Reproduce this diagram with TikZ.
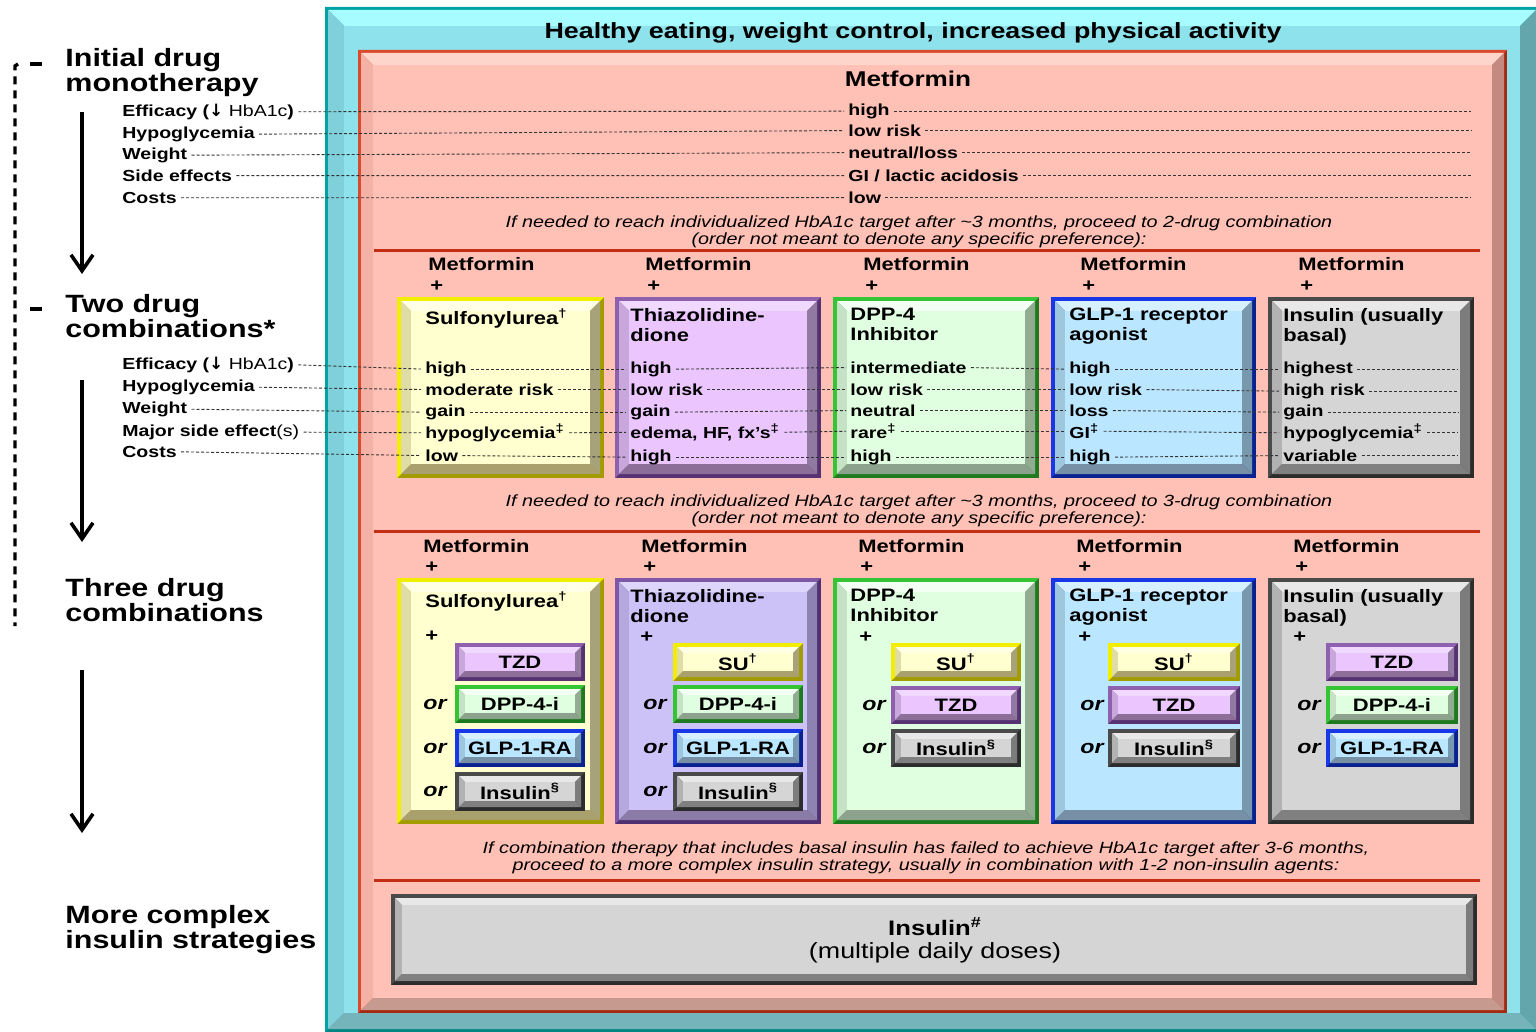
\documentclass[tikz,border=0pt]{standalone}
\usepackage{fontspec}
\setmainfont{Liberation Sans}[FakeStretch=1.22]
\newfontfamily\arrowfont{DejaVu Sans}
\usetikzlibrary{positioning,arrows.meta}

% b1/b2 = border light/dark, t/l/r/u = bevel top/left/right/bottom, f = face
\definecolor{cyab1}{HTML}{00A3A3}\definecolor{cyab2}{HTML}{008585}
\definecolor{cyat}{HTML}{A6FCFF}\definecolor{cyal}{HTML}{7FD0DA}
\definecolor{cyar}{HTML}{63A7AD}\definecolor{cyau}{HTML}{75B4BA}
\definecolor{cyaf}{HTML}{8DE2EC}
\definecolor{redb1}{HTML}{D94A2E}\definecolor{redb2}{HTML}{A52A12}
\definecolor{redt}{HTML}{FED5CA}\definecolor{redl}{HTML}{F4B2A6}
\definecolor{redr}{HTML}{C48A82}\definecolor{redu}{HTML}{C69A8E}
\definecolor{redf}{HTML}{FFC0B5}
\definecolor{yelb1}{HTML}{F2EE00}\definecolor{yelb2}{HTML}{A39C00}
\definecolor{yelt}{HTML}{FFFFE6}\definecolor{yell}{HTML}{E0DCA6}
\definecolor{yelr}{HTML}{A8A27A}\definecolor{yelu}{HTML}{A9A06E}
\definecolor{yelf}{HTML}{FFFFD0}
\definecolor{purb1}{HTML}{8E60AE}\definecolor{purb2}{HTML}{563272}
\definecolor{purt}{HTML}{F0D8FF}\definecolor{purl}{HTML}{C8A8DC}
\definecolor{purr}{HTML}{907AA2}\definecolor{puru}{HTML}{8C6E98}
\definecolor{purf}{HTML}{EBC5FE}
\definecolor{lavb1}{HTML}{7E58A6}\definecolor{lavb2}{HTML}{4E3070}
\definecolor{lavt}{HTML}{DED6FA}\definecolor{lavl}{HTML}{B4A8DE}
\definecolor{lavr}{HTML}{8E82B2}\definecolor{lavu}{HTML}{8A7CA6}
\definecolor{lavf}{HTML}{CDC2F7}
\definecolor{grnb1}{HTML}{34C434}\definecolor{grnb2}{HTML}{1E7A1E}
\definecolor{grnt}{HTML}{F2FFF2}\definecolor{grnl}{HTML}{C6E2C6}
\definecolor{grnr}{HTML}{92AC92}\definecolor{grnu}{HTML}{8CA28C}
\definecolor{grnf}{HTML}{E0FFE0}
\definecolor{blub1}{HTML}{1838E8}\definecolor{blub2}{HTML}{0A2290}
\definecolor{blut}{HTML}{D6F0FF}\definecolor{blul}{HTML}{9EC6DC}
\definecolor{blur}{HTML}{7898AE}\definecolor{bluu}{HTML}{7890A6}
\definecolor{bluf}{HTML}{BBE6FF}
\definecolor{gryb1}{HTML}{4A4A4A}\definecolor{gryb2}{HTML}{2C2C2C}
\definecolor{gryt}{HTML}{E8E8E8}\definecolor{gryl}{HTML}{B2B2B2}
\definecolor{gryr}{HTML}{7C7C7C}\definecolor{gryu}{HTML}{808080}
\definecolor{gryf}{HTML}{D5D5D5}
\definecolor{sepred}{HTML}{C42E14}

% family, x1, y1, x2, y2, border, bevel
\newcommand{\bevelbox}[7]{%
  \fill[#1b2] (#2,#3) rectangle (#4,#5);
  \fill[#1b1] (#2,#3) -- (#4,#3) -- ({#4-#6},{#3+#6}) -- ({#2+#6},{#5-#6}) -- (#2,#5) -- cycle;
  \pgfmathsetmacro\bvXa{#2+#6}\pgfmathsetmacro\bvYa{#3+#6}
  \pgfmathsetmacro\bvXb{#4-#6}\pgfmathsetmacro\bvYb{#5-#6}
  \pgfmathsetmacro\bvXc{\bvXa+#7}\pgfmathsetmacro\bvYc{\bvYa+#7}
  \pgfmathsetmacro\bvXd{\bvXb-#7}\pgfmathsetmacro\bvYd{\bvYb-#7}
  \fill[#1t] (\bvXa,\bvYa) -- (\bvXb,\bvYa) -- (\bvXd,\bvYc) -- (\bvXc,\bvYc) -- cycle;
  \fill[#1l] (\bvXa,\bvYa) -- (\bvXc,\bvYc) -- (\bvXc,\bvYd) -- (\bvXa,\bvYb) -- cycle;
  \fill[#1r] (\bvXb,\bvYa) -- (\bvXb,\bvYb) -- (\bvXd,\bvYd) -- (\bvXd,\bvYc) -- cycle;
  \fill[#1u] (\bvXa,\bvYb) -- (\bvXb,\bvYb) -- (\bvXd,\bvYd) -- (\bvXc,\bvYd) -- cycle;
  \fill[#1f] (\bvXc,\bvYc) rectangle (\bvXd,\bvYd);
}
% family, x1, y1, x2, y2, name, text
\newcommand{\subbox}[7]{%
  \bevelbox{#1}{#2}{#3}{#4}{#5}{4}{6}
  \node[subtxt] (#6) at ({(#2+#4)/2},{(#3+#5)/2}) {#7};
}
\newcommand{\dnarrow}{{\arrowfont\fontsize{8.5}{8.5}\selectfont\bfseries ↓}}

\tikzset{
  heading/.style={font=\fontsize{12.5}{12.5}\selectfont\bfseries, align=left, inner sep=0, anchor=north west},
  crit/.style={font=\fontsize{8}{9}\selectfont\bfseries, inner sep=0, anchor=mid west},
  btitle/.style={font=\fontsize{9}{10}\selectfont\bfseries, align=left, inner sep=0, anchor=north west},
  colhead/.style={font=\fontsize{9}{10}\selectfont\bfseries, inner sep=0, anchor=mid west},
  plus/.style={font=\fontsize{9}{10}\selectfont\bfseries, inner sep=0, anchor=mid west},
  subtxt/.style={font=\fontsize{9}{10}\selectfont\bfseries, inner sep=0},
  ortxt/.style={font=\fontsize{9.5}{10}\selectfont\bfseries\itshape, inner sep=0, anchor=mid west},
  note/.style={font=\fontsize{8.1}{8.6}\selectfont\itshape, align=center, inner sep=0},
  dots/.style={black!80, line width=0.45pt, dash pattern=on 1.5pt off 1pt, shorten <=2pt, shorten >=2pt},
  flow/.style={line width=1.8pt, -{Straight Barb[length=8pt,width=11pt]}},
  sep/.style={sepred, line width=1.5pt},
}

\begin{document}
\begin{tikzpicture}[x=0.5pt,y=-0.5pt]
\useasboundingbox (0,0) rectangle (1536,1032);
\clip (0,0) rectangle (1536,1032);
\fill[white] (0,0) rectangle (1536,1032);

% frames
\bevelbox{cya}{325}{7}{1539}{1032}{3}{16}
\bevelbox{red}{358}{50}{1507}{1013}{3}{12}
\node[font=\fontsize{11}{12}\selectfont\bfseries, inner sep=0] (life) at (913,33) {Healthy eating, weight control, increased physical activity};

% left column
\draw[line width=1.7pt, dash pattern=on 4pt off 3pt] (18,64) -- (15,66) -- (15,626);
\draw[line width=1.7pt] (30,64) -- (42,64);
\draw[line width=1.7pt] (30,309) -- (42,309);
\node[heading] (mono) at (65,48) {Initial drug\\monotherapy};
\node[heading] (two) at (65,294) {Two drug\\combinations*};
\node[heading] (three) at (65,578) {Three drug\\combinations};
\node[heading] (complex) at (65,905) {More complex\\insulin strategies};
\coordinate (ar1a) at (82,112); \coordinate (ar1b) at (82,274);
\coordinate (ar2a) at (82,380); \coordinate (ar2b) at (82,542);
\coordinate (ar3a) at (82,670); \coordinate (ar3b) at (82,833);
\draw[flow] (ar1a) -- (ar1b);
\draw[flow] (ar2a) -- (ar2b);
\draw[flow] (ar3a) -- (ar3b);

% monotherapy
\node[font=\fontsize{10.7}{12}\selectfont\bfseries, inner sep=0] (met) at (908,79) {Metformin};
\node[crit] (crit1) at (122,111) {Efficacy (\dnarrow\textmd{ HbA1c})};
\node[crit] (crit2) at (122,133) {Hypoglycemia};
\node[crit] (crit3) at (122,154) {Weight};
\node[crit] (crit4) at (122,176) {Side effects};
\node[crit] (crit5) at (122,198) {Costs};
\node[crit] (mv1) at (848,110) {high};
\node[crit] (mv2) at (848,131) {low risk};
\node[crit] (mv3) at (848,153) {neutral/loss};
\node[crit] (mv4) at (848,176) {GI / lactic acidosis};
\node[crit] (mv5) at (848,198) {low};
\coordinate (endmono) at (1475,0);
\foreach \i in {1,...,5} {
  \draw[dots] (crit\i.east) -- (mv\i.west);
  \draw[dots] (mv\i.east) -- (mv\i.east -| endmono);
}
\node[note] (step2) at (919,232) {If needed to reach individualized HbA1c target after \textasciitilde3 months, proceed to 2-drug combination\\(order not meant to denote any specific preference):};
\draw[sep] (374,251) -- (1480,251);

% two drug combinations
\foreach \x/\n in {428/a,645/b,863/c,1080/d,1298/e} {
  \node[colhead] (mf2\n) at (\x,265) {Metformin};
  \node[plus] (pl2\n) at ({\x+2},286) {+};
}
\def\ya{297}
\def\yb{478}
\bevelbox{yel}{397}{\ya}{604}{\yb}{4}{10}
\bevelbox{pur}{615}{\ya}{821}{\yb}{4}{10}
\bevelbox{grn}{833}{\ya}{1039}{\yb}{4}{10}
\bevelbox{blu}{1051}{\ya}{1256}{\yb}{4}{10}
\bevelbox{gry}{1268}{\ya}{1474}{\yb}{4}{10}
\node[btitle] (t2a) at (425,308) {Sulfonylurea\textsuperscript{†}};
\node[btitle] (t2b) at (630,308) {Thiazolidine-\\dione};
\node[btitle] (t2c) at (850,308) {DPP-4\\Inhibitor};
\node[btitle] (t2d) at (1069,308) {GLP-1 receptor\\agonist};
\node[btitle] (t2e) at (1283,308) {Insulin (usually\\basal)};

\node[crit] (cb1) at (122,364) {Efficacy (\dnarrow\textmd{ HbA1c})};
\node[crit] (cb2) at (122,386) {Hypoglycemia};
\node[crit] (cb3) at (122,408) {Weight};
\node[crit] (cb4) at (122,431) {Major side effect\textmd{(s)}};
\node[crit] (cb5) at (122,452) {Costs};

\def\yr{368}\def\ys{390}\def\yt{411}\def\yu{433}\def\yv{456}
\node[crit] (su1) at (425,\yr) {high};
\node[crit] (su2) at (425,\ys) {moderate risk};
\node[crit] (su3) at (425,\yt) {gain};
\node[crit] (su4) at (425,\yu) {hypoglycemia\textsuperscript{‡}};
\node[crit] (su5) at (425,\yv) {low};
\node[crit] (tz1) at (630,\yr) {high};
\node[crit] (tz2) at (630,\ys) {low risk};
\node[crit] (tz3) at (630,\yt) {gain};
\node[crit] (tz4) at (630,\yu) {edema, HF, fx’s\textsuperscript{‡}};
\node[crit] (tz5) at (630,\yv) {high};
\node[crit] (dp1) at (850,\yr) {intermediate};
\node[crit] (dp2) at (850,\ys) {low risk};
\node[crit] (dp3) at (850,\yt) {neutral};
\node[crit] (dp4) at (850,\yu) {rare\textsuperscript{‡}};
\node[crit] (dp5) at (850,\yv) {high};
\node[crit] (gl1) at (1069,\yr) {high};
\node[crit] (gl2) at (1069,\ys) {low risk};
\node[crit] (gl3) at (1069,\yt) {loss};
\node[crit] (gl4) at (1069,\yu) {GI\textsuperscript{‡}};
\node[crit] (gl5) at (1069,\yv) {high};
\node[crit] (in1) at (1283,\yr) {highest};
\node[crit] (in2) at (1283,\ys) {high risk};
\node[crit] (in3) at (1283,\yt) {gain};
\node[crit] (in4) at (1283,\yu) {hypoglycemia\textsuperscript{‡}};
\node[crit] (in5) at (1283,\yv) {variable};
\coordinate (endtwo) at (1462,0);
\foreach \i in {1,...,5} {
  \draw[dots] (cb\i.east) -- (su\i.west);
  \draw[dots] (su\i.east) -- (tz\i.west);
  \draw[dots] (tz\i.east) -- (dp\i.west);
  \draw[dots] (dp\i.east) -- (gl\i.west);
  \draw[dots] (gl\i.east) -- (in\i.west);
  \draw[dots] (in\i.east) -- (in\i.east -| endtwo);
}
\node[note] (step3) at (919,511) {If needed to reach individualized HbA1c target after \textasciitilde3 months, proceed to 3-drug combination\\(order not meant to denote any specific preference):};
\draw[sep] (374,531) -- (1480,531);

% three drug combinations
\foreach \x/\n in {423/a,641/b,858/c,1076/d,1293/e} {
  \node[colhead] (mf3\n) at (\x,547) {Metformin};
  \node[plus] (pl3\n) at ({\x+2},567) {+};
}
\def\yc{578}
\def\yd{824}
\bevelbox{yel}{397}{\yc}{604}{\yd}{4}{10}
\bevelbox{lav}{615}{\yc}{821}{\yd}{4}{10}
\bevelbox{grn}{833}{\yc}{1039}{\yd}{4}{10}
\bevelbox{blu}{1051}{\yc}{1256}{\yd}{4}{10}
\bevelbox{gry}{1268}{\yc}{1474}{\yd}{4}{10}
\node[btitle] (t3a) at (425,591) {Sulfonylurea\textsuperscript{†}};
\node[btitle] (t3b) at (630,589) {Thiazolidine-\\dione};
\node[btitle] (t3c) at (850,589) {DPP-4\\Inhibitor};
\node[btitle] (t3d) at (1069,589) {GLP-1 receptor\\agonist};
\node[btitle] (t3e) at (1283,589) {Insulin (usually\\basal)};
\node[plus] (q3a) at (425,636) {+};
\node[plus] (q3b) at (640,637) {+};
\node[plus] (q3c) at (859,637) {+};
\node[plus] (q3d) at (1078,637) {+};
\node[plus] (q3e) at (1293,637) {+};

% sulfonylurea column
\subbox{pur}{455}{643}{585}{681}{sa1}{TZD}
\subbox{grn}{455}{685}{585}{723}{sa2}{DPP-4-i}
\subbox{blu}{455}{729}{585}{767}{sa3}{GLP-1-RA}
\subbox{gry}{455}{772}{585}{811}{sa4}{Insulin\textsuperscript{§}}
\node[ortxt] (oa2) at (423,704) {or};
\node[ortxt] (oa3) at (423,748) {or};
\node[ortxt] (oa4) at (423,791) {or};
% thiazolidinedione column
\subbox{yel}{673}{643}{803}{681}{sb1}{SU\textsuperscript{†}}
\subbox{grn}{673}{685}{803}{723}{sb2}{DPP-4-i}
\subbox{blu}{673}{729}{803}{767}{sb3}{GLP-1-RA}
\subbox{gry}{673}{772}{803}{811}{sb4}{Insulin\textsuperscript{§}}
\node[ortxt] (ob2) at (643,704) {or};
\node[ortxt] (ob3) at (643,748) {or};
\node[ortxt] (ob4) at (643,791) {or};
% DPP-4 column
\subbox{yel}{891}{643}{1021}{681}{sc1}{SU\textsuperscript{†}}
\subbox{pur}{891}{686}{1021}{724}{sc2}{TZD}
\subbox{gry}{891}{729}{1021}{767}{sc3}{Insulin\textsuperscript{§}}
\node[ortxt] (oc2) at (862,705) {or};
\node[ortxt] (oc3) at (862,748) {or};
% GLP-1 column
\subbox{yel}{1108}{643}{1240}{681}{sd1}{SU\textsuperscript{†}}
\subbox{pur}{1108}{686}{1240}{724}{sd2}{TZD}
\subbox{gry}{1108}{729}{1240}{767}{sd3}{Insulin\textsuperscript{§}}
\node[ortxt] (od2) at (1080,705) {or};
\node[ortxt] (od3) at (1080,748) {or};
% insulin column
\subbox{pur}{1326}{643}{1458}{681}{se1}{TZD}
\subbox{grn}{1326}{686}{1458}{724}{se2}{DPP-4-i}
\subbox{blu}{1326}{729}{1458}{767}{se3}{GLP-1-RA}
\node[ortxt] (oe2) at (1297,705) {or};
\node[ortxt] (oe3) at (1297,748) {or};

\node[note] (step4) at (926,858) {If combination therapy that includes basal insulin has failed to achieve HbA1c target after 3-6 months,\\proceed to a more complex insulin strategy, usually in combination with 1-2 non-insulin agents:};
\draw[sep] (374,880) -- (1480,880);

% complex insulin
\bevelbox{gry}{391}{894}{1477}{985}{4}{7}
\node[font=\fontsize{10.5}{12}\selectfont\bfseries, inner sep=0] (ins) at (935,927) {Insulin\textsuperscript{\#}};
\node[font=\fontsize{11}{12}\selectfont, inner sep=0] (doses) at (935,953) {(multiple daily doses)};
\end{tikzpicture}
\end{document}
